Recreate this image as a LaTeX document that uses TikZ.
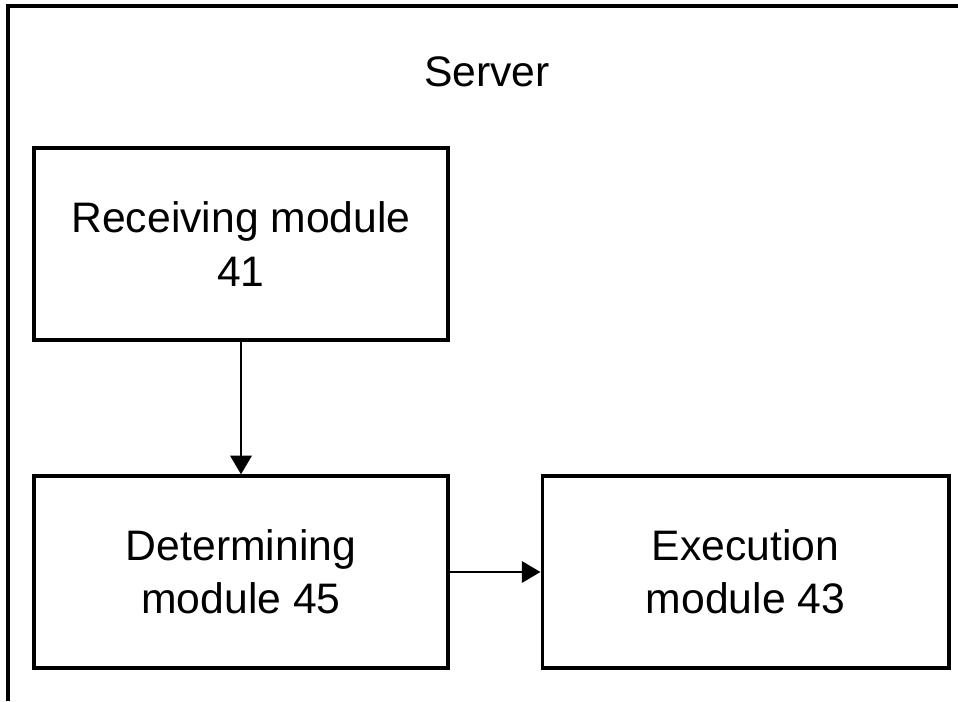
\documentclass[tikz,border=0pt]{standalone}
\usepackage{fontspec}
\setmainfont{Liberation Sans}
\usetikzlibrary{arrows.meta}
\tikzset{
  module/.style={draw, line width=2.5pt, align=center, inner sep=0pt,
    minimum width=310.5pt, minimum height=144pt,
    font=\fontsize{32}{40}\selectfont},
  flow/.style={line width=1.8pt, -{Triangle[length=14pt,width=16pt]}}
}
\begin{document}
\begin{tikzpicture}[x=0.75pt, y=-0.75pt]
		%%%%% START %%%%%
		\useasboundingbox (0,0) rectangle (958,701);
		
		\draw[line width=2.4pt] (8,701) -- (8,6) -- (958,6);
		\node[font=\fontsize{32}{40}\selectfont] (server) at (487,72) {Server};
		
		\node[module] (recv) at (241,244) {Receiving module\\41};
		\node[module] (det) at (241,572) {Determining\\module 45};
		\node[module, minimum width=305pt] (exec) at (745.5,572) {Execution\\module 43};
		
		\draw[flow] (recv) -- (det);
		\draw[flow] (det) -- (exec);
		%%%%% END %%%%%
	\end{tikzpicture}
\end{document}
